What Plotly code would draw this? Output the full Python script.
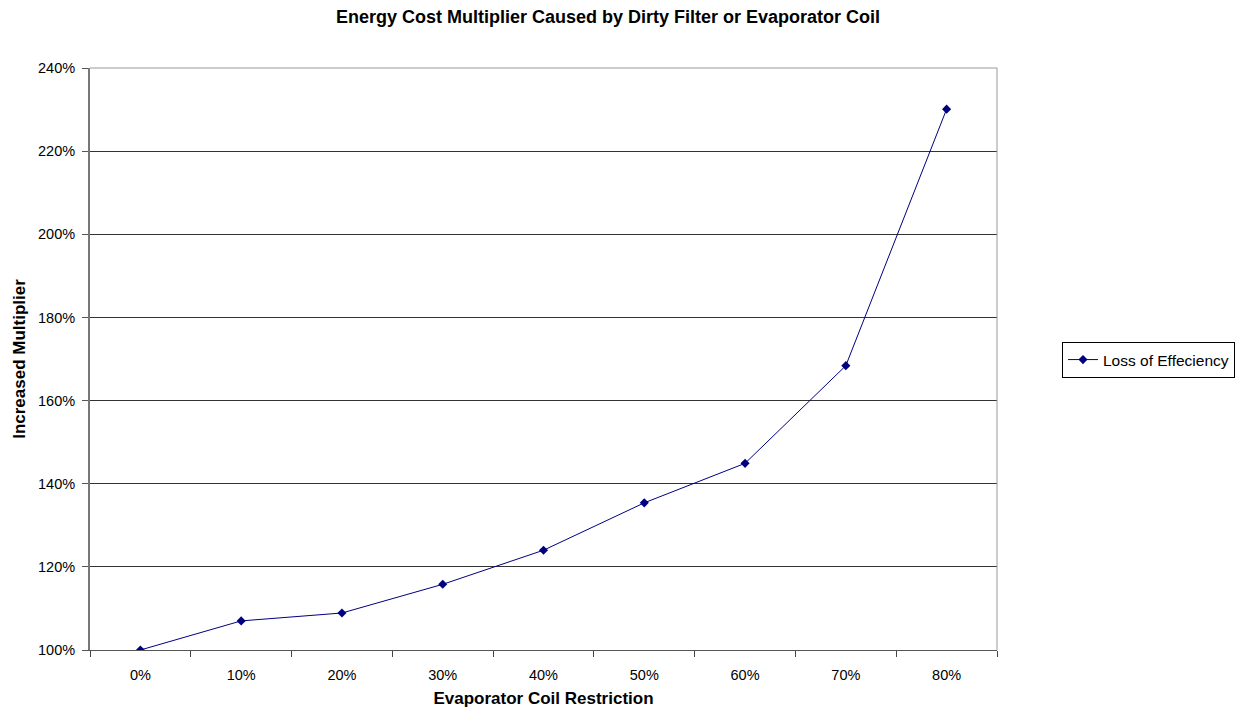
import plotly.graph_objects as go

categories = ["0%", "10%", "20%", "30%", "40%", "50%", "60%", "70%", "80%"]
multiplier = [1.00, 1.07, 1.089, 1.158, 1.24, 1.354, 1.449, 1.684, 2.301]
series_name = "Loss of Effeciency"
y_ticks = [1.0, 1.2, 1.4, 1.6, 1.8, 2.0, 2.2, 2.4]
y_tick_labels = ["100%", "120%", "140%", "160%", "180%", "200%", "220%", "240%"]

# page has an 8px body margin; figure is sized to fit the 1248x715 window
W, H = 1240, 707
OFF = 8

fig = go.Figure()
fig.add_trace(go.Scatter(
    x=categories, y=multiplier, name=series_name, mode="lines+markers",
    line=dict(color="#000080", width=1),
    marker=dict(symbol="diamond", size=7, color="#000080"),
    showlegend=True,
))

font_family = "Liberation Sans, Arial, sans-serif"
fig.update_layout(
    width=W, height=H,
    margin=dict(l=90 - OFF, r=(OFF + W) - 997, t=68 - OFF, b=(OFF + H) - 650),
    paper_bgcolor="white", plot_bgcolor="white",
    font=dict(family=font_family, size=14.5, color="black"),
    title=dict(text="<b>Energy Cost Multiplier Caused by Dirty Filter or Evaporator Coil</b>",
               x=(608 - OFF) / W, xanchor="center", y=1 - (17 - OFF) / H, yanchor="middle",
               font=dict(size=18, family=font_family)),
    legend=dict(x=(1062 - 90) / 907, y=(650 - 360) / 582, xanchor="left", yanchor="middle",
                bordercolor="black", borderwidth=1, bgcolor="white",
                font=dict(size=15.5, family=font_family)),
    xaxis=dict(
        type="category", range=[-0.5, 8.5], tickson="boundaries",
        ticks="outside", ticklen=6, tickcolor="#444", showgrid=False,
        ticklabelstandoff=12,
        showline=True, linecolor="#555", linewidth=1, mirror=False,
        title=dict(text="<b>Evaporator Coil Restriction</b>", font=dict(size=17), standoff=9),
        zeroline=False, automargin=False,
    ),
    yaxis=dict(
        range=[1.0, 2.4], tickvals=y_ticks, ticktext=y_tick_labels,
        ticks="outside", ticklen=6, tickcolor="#555",
        ticklabelstandoff=4,
        showgrid=True, gridcolor="#333", gridwidth=1,
        showline=True, linecolor="#777", linewidth=2,
        title=dict(text="<b>Increased Multiplier</b>", font=dict(size=17), standoff=8),
        zeroline=False, automargin=False,
    ),
    shapes=[
        dict(type="line", xref="paper", yref="paper", x0=1, x1=1, y0=0, y1=1,
             line=dict(color="#999", width=1)),
        dict(type="line", xref="paper", yref="paper", x0=0, x1=1, y0=1, y1=1,
             line=dict(color="#999", width=1)),
    ],
)

fig.write_html("out.html")
